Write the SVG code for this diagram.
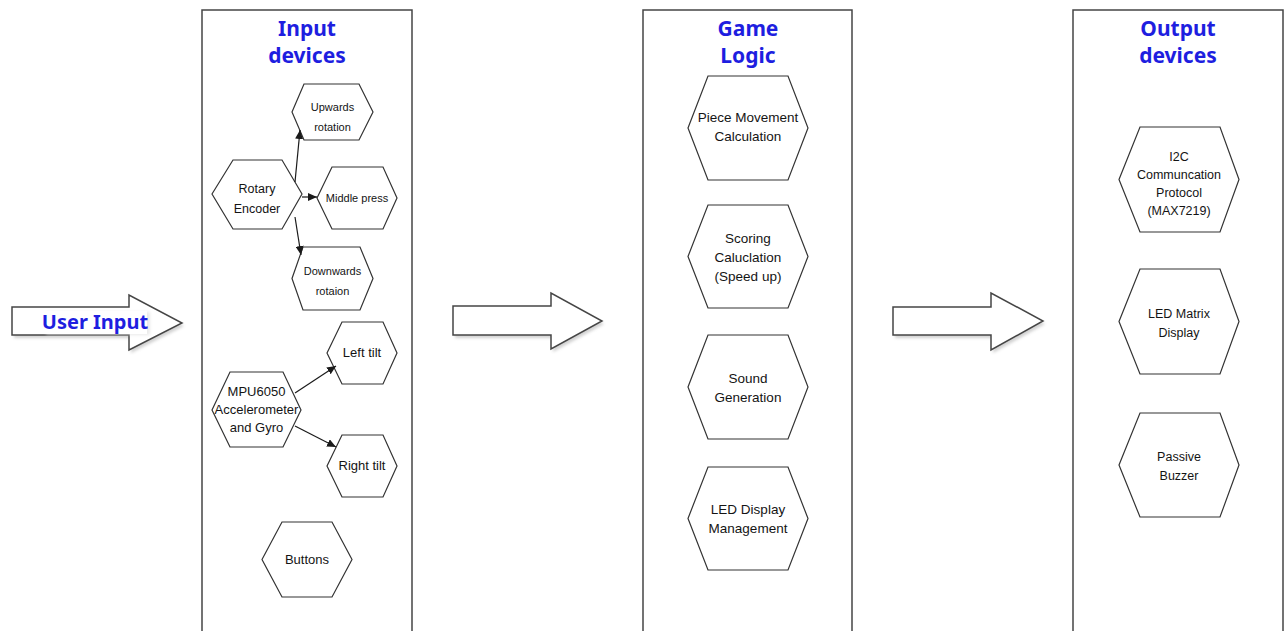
<svg xmlns="http://www.w3.org/2000/svg" width="1285" height="631" viewBox="0 0 1285 631">
<style>
.box{fill:#fff;stroke:#454545;stroke-width:1.5}
.hex{fill:#fff;stroke:#333;stroke-width:1.2}
.title{font-family:"Noto Sans","DejaVu Sans",sans-serif;font-weight:bold;font-size:21px;fill:#1e1ee0;text-anchor:middle}
.lbl{font-family:"Liberation Sans",Arial,sans-serif;fill:#141414;text-anchor:middle}
.s11{font-size:11px}
.s12{font-size:12.5px}
.s13{font-size:13px}
.s135{font-size:13.5px}
.conn{stroke:#1a1a1a;stroke-width:1.2;fill:none;marker-end:url(#ah)}
.blk{fill:#fff;stroke:#454545;stroke-width:1.5}
.shd{fill:#999;opacity:0.45;filter:url(#blur)}
</style>
<defs>
<marker id="ah" markerWidth="9" markerHeight="8" refX="9" refY="4" orient="auto" markerUnits="userSpaceOnUse"><path d="M0,0 L9,4 L0,8 Z" fill="#1a1a1a"/></marker>
<filter id="blur" x="-10%" y="-10%" width="120%" height="120%"><feGaussianBlur stdDeviation="1.5"/></filter>
</defs>
<rect width="1285" height="631" fill="#fff"/>

<g id="user-input">
<polygon class="shd" points="12,307 129,307 129,295 182,323 129,350 129,335 12,335" transform="translate(2,3)"/>
<polygon class="blk" points="12,307 129,307 129,295 182,323 129,350 129,335 12,335"/>
<rect x="45" y="311" width="104" height="23" fill="#ddd" opacity="0.6" filter="url(#blur)" transform="translate(1,1)"/>
<rect x="43" y="311" width="104" height="23" fill="#fff"/>
<text x="95" y="329" class="title" style="font-size:20px">User Input</text>
</g>

<g id="input-devices">
<rect class="box" x="202" y="10" width="210" height="640"/>
<text x="307" y="36" class="title">Input</text>
<text x="307" y="63" class="title">devices</text>
</g>

<g id="game-logic">
<rect class="box" x="643" y="10" width="209" height="640"/>
<text x="748" y="36" class="title">Game</text>
<text x="748" y="63" class="title">Logic</text>
</g>

<g id="output-devices">
<rect class="box" x="1073" y="10" width="210" height="640"/>
<text x="1178" y="36" class="title">Output</text>
<text x="1178" y="63" class="title">devices</text>
</g>

<g id="arrow-1">
<polygon class="shd" points="453,306 551,306 551,293 602,321 551,349 551,335 453,335" transform="translate(2,3)"/>
<polygon class="blk" points="453,306 551,306 551,293 602,321 551,349 551,335 453,335"/>
</g>
<g id="arrow-2">
<polygon class="shd" points="893,307 991,307 991,293 1043,321 991,350 991,335 893,335" transform="translate(2,3)"/>
<polygon class="blk" points="893,307 991,307 991,293 1043,321 991,350 991,335 893,335"/>
</g>

<g id="rotary-encoder">
<polygon class="hex" points="212,194 233,160 282,160 302,194 282,229 233,229"/>
<text class="lbl s12" x="257" y="193">Rotary</text>
<text class="lbl s12" x="257" y="213">Encoder</text>
</g>
<g id="upwards-rotation">
<polygon class="hex" points="292,112 304,84 359,84 373,112 359,140 304,140"/>
<text class="lbl s11" x="332.5" y="111">Upwards</text>
<text class="lbl s11" x="332.5" y="131">rotation</text>
</g>
<g id="middle-press">
<polygon class="hex" points="317,198 332,167 383,167 397,198 383,229 332,229"/>
<text class="lbl s11" x="357" y="202">Middle press</text>
</g>
<g id="downwards-rotaion">
<polygon class="hex" points="292,278.5 303,247 360,247 373,278.5 360,310 303,310"/>
<text class="lbl s11" x="332.5" y="275">Downwards</text>
<text class="lbl s11" x="332.5" y="295">rotaion</text>
</g>
<g id="mpu6050">
<polygon class="hex" points="212,410 230,372 283,372 301,410 283,447 230,447"/>
<text class="lbl s13" x="256.5" y="396">MPU6050</text>
<text class="lbl s13" x="256.5" y="414">Accelerometer</text>
<text class="lbl s13" x="256.5" y="432">and Gyro</text>
</g>
<g id="left-tilt">
<polygon class="hex" points="327,353 342,322 383,322 397,353 383,384 342,384"/>
<text class="lbl s13" x="362" y="357">Left tilt</text>
</g>
<g id="right-tilt">
<polygon class="hex" points="327,466 342,435 383,435 397,466 383,497 342,497"/>
<text class="lbl s13" x="362" y="470">Right tilt</text>
</g>
<g id="buttons">
<polygon class="hex" points="262,559.5 282,522 332,522 352,559.5 332,597 282,597"/>
<text class="lbl s13" x="307" y="564">Buttons</text>
</g>

<g id="piece-movement">
<polygon class="hex" points="688,128 708,76 788,76 808,128 788,180 708,180"/>
<text class="lbl s135" x="748" y="122">Piece Movement</text>
<text class="lbl s135" x="748" y="141">Calculation</text>
</g>
<g id="scoring">
<polygon class="hex" points="688,256.5 708,205 788,205 808,256.5 788,308 708,308"/>
<text class="lbl s135" x="748" y="243">Scoring</text>
<text class="lbl s135" x="748" y="262">Caluclation</text>
<text class="lbl s135" x="748" y="281">(Speed up)</text>
</g>
<g id="sound-generation">
<polygon class="hex" points="688,387 708,335 788,335 808,387 788,439 708,439"/>
<text class="lbl s135" x="748" y="383">Sound</text>
<text class="lbl s135" x="748" y="402">Generation</text>
</g>
<g id="led-display-management">
<polygon class="hex" points="688,518.5 708,467 788,467 808,518.5 788,570 708,570"/>
<text class="lbl s135" x="748" y="514">LED Display</text>
<text class="lbl s135" x="748" y="533">Management</text>
</g>

<g id="i2c">
<polygon class="hex" points="1119,179.5 1140,127 1220,127 1239,179.5 1220,232 1140,232"/>
<text class="lbl s12" x="1179" y="161">I2C</text>
<text class="lbl s12" x="1179" y="179">Communcation</text>
<text class="lbl s12" x="1179" y="197">Protocol</text>
<text class="lbl s12" x="1179" y="215">(MAX7219)</text>
</g>
<g id="led-matrix">
<polygon class="hex" points="1119,321.5 1140,269 1220,269 1239,321.5 1220,374 1140,374"/>
<text class="lbl s12" x="1179" y="318">LED Matrix</text>
<text class="lbl s12" x="1179" y="337">Display</text>
</g>
<g id="passive-buzzer">
<polygon class="hex" points="1119,465 1140,413 1220,413 1239,465 1220,517 1140,517"/>
<text class="lbl s12" x="1179" y="461">Passive</text>
<text class="lbl s12" x="1179" y="480">Buzzer</text>
</g>

<g id="connectors">
<line class="conn" x1="295" y1="182" x2="300" y2="130"/>
<line class="conn" x1="302" y1="197" x2="317" y2="197"/>
<line class="conn" x1="295" y1="217" x2="301" y2="255"/>
<line class="conn" x1="295" y1="393" x2="336" y2="366"/>
<line class="conn" x1="295" y1="426" x2="336" y2="447"/>
</g>
</svg>
